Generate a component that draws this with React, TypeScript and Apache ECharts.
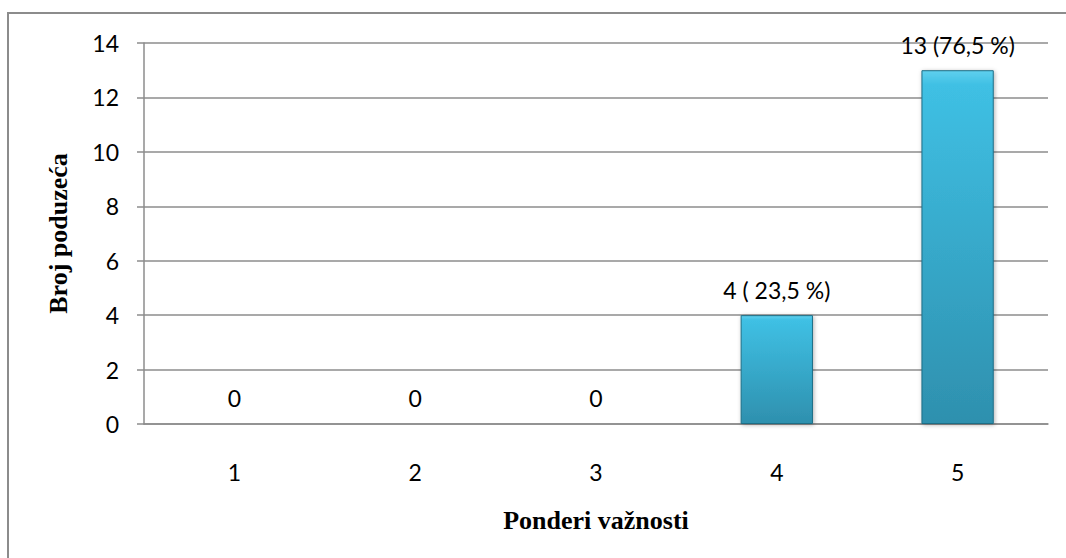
import React, { useEffect, useRef } from "react";
import * as echarts from "echarts";

const categories = ["1", "2", "3", "4", "5"];
const values = [0, 0, 0, 4, 13];
const labelTexts = ["0", "0", "0", "4 ( 23,5 %)", "13 (76,5 %)"];
const yAxisTitle = "Broj poduzeća";
const xAxisTitle = "Ponderi važnosti";

export default function App() {
  const ref = useRef<HTMLDivElement>(null);
  useEffect(() => {
    if (!ref.current) return;
    const chart = echarts.init(ref.current, null, { renderer: "svg" });
    const labelFont = "Lato, 'Open Sans', sans-serif";
    const titleFont = "'Liberation Serif', 'DejaVu Serif', serif";
    chart.setOption({
      animation: false,
      backgroundColor: "#ffffff",
      graphic: [
        {
          type: "rect",
          shape: { x: 8, y: 13, width: 1120, height: 600 },
          style: { fill: "none", stroke: "#8c8c8c", lineWidth: 2 },
          silent: true,
        },
      ],
      grid: { left: 144, right: 18, top: 43, bottom: 134 },
      xAxis: {
        type: "category",
        data: categories,
        name: xAxisTitle,
        nameLocation: "middle",
        nameGap: 83,
        nameTextStyle: { fontFamily: titleFont, fontWeight: "bold", fontSize: 26, color: "#000" },
        axisLine: { lineStyle: { color: "#8c8c8c", width: 1.5 } },
        axisTick: { show: false },
        axisLabel: { fontFamily: labelFont, fontSize: 23, color: "#000", margin: 36 },
      },
      yAxis: {
        type: "value",
        min: 0,
        max: 14,
        interval: 2,
        name: yAxisTitle,
        nameLocation: "middle",
        nameGap: 73,
        nameRotate: 90,
        nameTextStyle: { fontFamily: titleFont, fontWeight: "bold", fontSize: 26, color: "#000" },
        axisLine: { show: true, lineStyle: { color: "#8c8c8c", width: 1.5 } },
        axisTick: { show: true, length: 7, lineStyle: { color: "#8c8c8c", width: 1.5 } },
        axisLabel: { fontFamily: labelFont, fontSize: 23, color: "#000", margin: 25 },
        splitLine: { lineStyle: { color: "#8c8c8c", width: 1.5 } },
      },
      series: [
        {
          type: "bar",
          data: values,
          barWidth: "40%",
          itemStyle: {
            color: new echarts.graphic.LinearGradient(0, 0, 0, 1, [
              { offset: 0, color: "#5fd0ee" },
              { offset: 0.04, color: "#3fc0e4" },
              { offset: 1, color: "#2e90ae" },
            ]),
            borderColor: "#1f6e86",
            borderWidth: 1,
            shadowColor: "rgba(0,0,0,0.3)",
            shadowBlur: 4,
            shadowOffsetX: 1,
            shadowOffsetY: 1,
          },
          label: {
            show: true,
            position: "top",
            distance: 14,
            fontFamily: labelFont,
            fontSize: 23,
            color: "#000",
            formatter: (p: any) => labelTexts[p.dataIndex],
          },
        },
      ],
    });
    return () => chart.dispose();
  }, []);
  return (
    <div
      ref={ref}
      style={{ position: "fixed", left: 0, top: 0, width: 1066, height: 558 }}
    />
  );
}
